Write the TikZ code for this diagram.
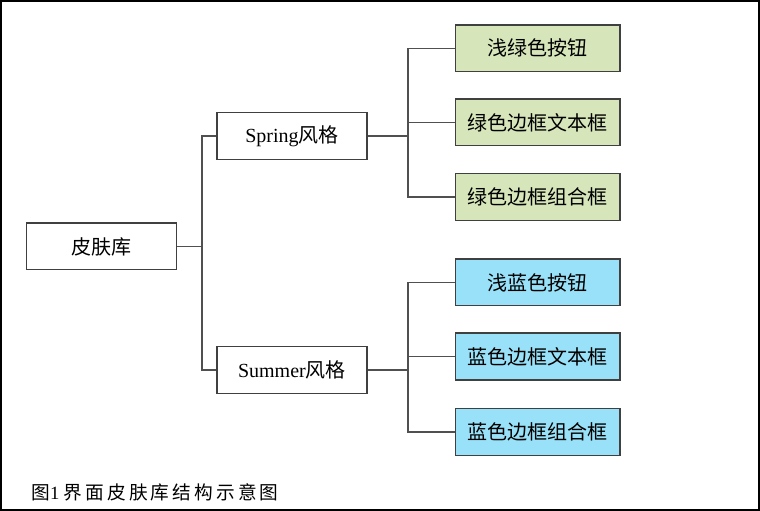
\documentclass[tikz,border=0pt]{standalone}
\usepackage{fontspec}
\setmainfont{Liberation Serif}
\newfontfamily\cjk{Noto Sans CJK SC}
\definecolor{lightgreen}{RGB}{214,230,186}
\definecolor{lightblue}{RGB}{153,225,248}
\definecolor{boxline}{RGB}{64,64,64}
\definecolor{treeline}{RGB}{80,80,80}
\begin{document}
\begin{tikzpicture}[x=0.75pt, y=-0.75pt,
    font=\fontsize{15}{17}\selectfont,
    rootnode/.style={draw=boxline, line width=1pt, fill=white, inner sep=2pt,
                     minimum width=112.5pt, minimum height=35pt, align=center},
    stylenode/.style={draw=boxline, line width=1pt, fill=white, inner sep=2pt,
                      minimum width=112.5pt, minimum height=35pt, align=center},
    greennode/.style={draw=boxline, line width=1pt, fill=lightgreen, inner sep=2pt,
                      minimum width=123.5pt, minimum height=35pt, align=center},
    bluenode/.style={draw=boxline, line width=1pt, fill=lightblue, inner sep=2pt,
                     minimum width=123.5pt, minimum height=35pt, align=center},
    tree/.style={draw=treeline, line width=1pt}]
\draw[line width=1.2pt] (1,1) rectangle (759,510);
\node[rootnode] (skin) at (101.5,246.5) {\cjk 皮肤库};
\node[stylenode] (spring) at (292,136) {Spring{\cjk 风格}};
\node[stylenode] (summer) at (292,370) {Summer{\cjk 风格}};
\node[greennode] (g1) at (537.5,48.5) {\cjk 浅绿色按钮};
\node[greennode] (g2) at (537.5,122.5) {\cjk 绿色边框文本框};
\node[greennode] (g3) at (537.5,197) {\cjk 绿色边框组合框};
\node[bluenode] (b1) at (537.5,282.5) {\cjk 浅蓝色按钮};
\node[bluenode] (b2) at (537.5,356.5) {\cjk 蓝色边框文本框};
\node[bluenode] (b3) at (537.5,432) {\cjk 蓝色边框组合框};
\coordinate (skinfork) at (202,246.5);
\coordinate (springfork) at (408,136);
\coordinate (summerfork) at (408,370);
\draw[tree] (skin.east) -- (skinfork);
\draw[tree] (spring.west) -| (skinfork) |- (summer.west);
\draw[tree] (spring.east) -- (springfork);
\foreach \n in {g1,g2,g3}{
  \draw[tree] (springfork) |- (\n.west);
}
\draw[tree] (summer.east) -- (summerfork);
\foreach \n in {b1,b2,b3}{
  \draw[tree] (summerfork) |- (\n.west);
}
\node[anchor=west, font=\fontsize{14}{16}\selectfont] (caption) at (27,492)
  {\cjk 图{\rmfamily 1} 界\,面\,皮\,肤\,库\,结\,构\,示\,意\,图};
\end{tikzpicture}
\end{document}
